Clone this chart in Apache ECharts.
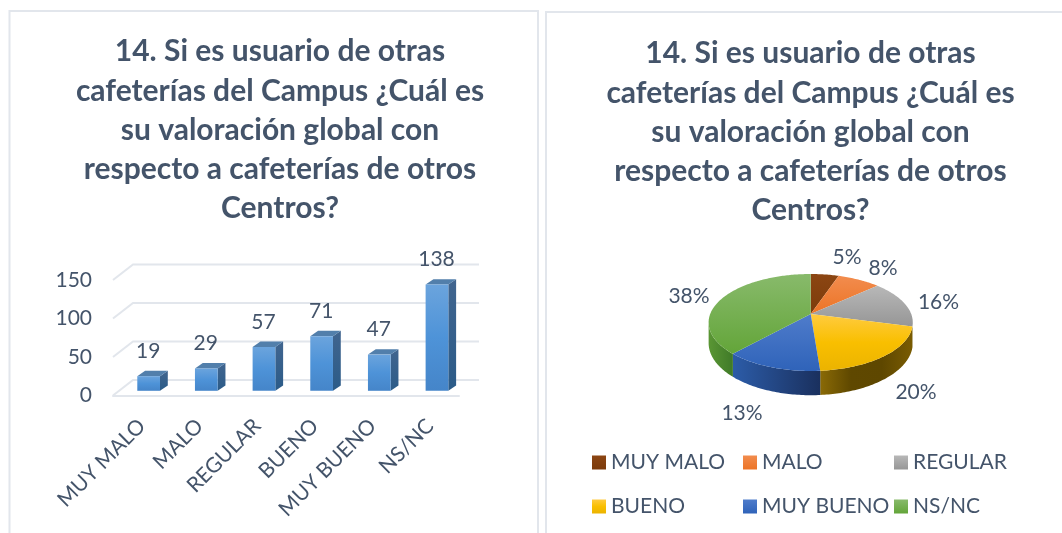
<!DOCTYPE html>
<html>
<head>
<meta charset="utf-8">
<style>html,body{margin:0;padding:0;background:#fff}#c{width:1062px;height:533px}</style>
<script src="https://cdn.jsdelivr.net/npm/echarts@6/dist/echarts.min.js"></script>
</head>
<body>
<div id="c"></div>
<script>
const titleText = '14. Si es usuario de otras\ncafeterías del Campus ¿Cuál es\nsu valoración global con\nrespecto a cafeterías de otros\nCentros?';
const categories = ['MUY MALO', 'MALO', 'REGULAR', 'BUENO', 'MUY BUENO', 'NS/NC'];
const values = [19, 29, 57, 71, 47, 138];
const yTicks = [0, 50, 100, 150];

const FONT = 'Lato';
const INK = '#44546A';
const GRID = '#E2E6EC';
const TEXT_SIZE = 21;

const grad = (dir, stops) => ({
  type: 'linear', x: 0, y: 0, x2: dir === 'h' ? 1 : 0, y2: dir === 'h' ? 0 : 1,
  colorStops: stops.map((c, i) => ({ offset: i / (stops.length - 1), color: c }))
});

const sliceTop = [
  ['#8C4613', '#7C3B0B'], ['#F28C4E', '#EC7426'], ['#B8B8B8', '#969696'],
  ['#FFCB40', '#F9BF00', '#EBB300'], ['#4F7CCB', '#2F63B9'], ['#88BA6B', '#63A539']
];
const sliceSide = [
  ['#5A2B08', '#4A2306'], ['#A85218', '#8F4512'], ['#6C6C6C', '#5C5C5C'],
  ['#8A6A06', '#5F4800', '#5E4700', '#7A5C02'], ['#2C5CA8', '#1A305E'], ['#5A9634', '#3F7A28']
];

/* perspective ellipse of the 3-D pie */
const PIE = { cx: 810.7, cy: 314, rx: 100.5, ry: 47, k: 0.175, depth: 20 };
const labelAt = [[847, 257], [883, 268], [938.5, 302], [916, 392], [742, 413], [689, 296]];
const total = values.reduce((a, b) => a + b, 0);

function rim(deg, drop) {
  const t = deg * Math.PI / 180, u = Math.sin(t), v = -Math.cos(t), w = 1 / (1 - PIE.k * v);
  return [PIE.cx + PIE.rx * u * w, PIE.cy + PIE.ry * v * w + (drop ? PIE.depth * w : 0)];
}
function arc(a, b, drop) {
  const pts = [], n = Math.max(2, Math.ceil(Math.abs(b - a)));
  for (let i = 0; i <= n; i++) pts.push(rim(a + (b - a) * i / n, drop));
  return pts;
}

function pieSlice(index) {
  return function (params, api) {
    const start = values.slice(0, index).reduce((a, b) => a + b, 0) / total * 360;
    const end = start + api.value(0) / total * 360;
    const kids = [];
    const a = Math.max(start, 104), b = Math.min(end, 260);
    if (b > a) {
      const top = arc(a, b, false), bottom = arc(b, a, true);
      kids.push({ type: 'polygon', z2: 1, shape: { points: top.concat(bottom) },
        style: { fill: grad('h', sliceSide[index]) } });
    }
    kids.push({ type: 'polygon', z2: 2,
      shape: { points: [[PIE.cx, PIE.cy]].concat(arc(start, end, false)) },
      style: { fill: grad('v', sliceTop[index]) } });
    kids.push({ type: 'text', z2: 5, style: {
      text: Math.round(api.value(0) / total * 100) + '%',
      x: labelAt[index][0], y: labelAt[index][1], align: 'center', verticalAlign: 'middle',
      fill: INK, fontSize: TEXT_SIZE, fontFamily: FONT } });
    return { type: 'group', children: kids };
  };
}

const BAR = { dx: 6.8, dy: -4.7, w: 22.7, sx: 7.8, sy: -5.4 };
function renderBar(params, api) {
  const p = api.coord([api.value(0), api.value(1)]);
  const base = api.coord([api.value(0), 0]);
  const l = p[0] + BAR.dx - BAR.w / 2, r = l + BAR.w;
  const t = p[1] + BAR.dy, b = base[1] + BAR.dy;
  return { type: 'group', children: [
    { type: 'polygon', shape: { points: [[r, t], [r + BAR.sx, t + BAR.sy], [r + BAR.sx, b + BAR.sy], [r, b]] },
      style: { fill: grad('v', ['#41658F', '#2B5B88']) } },
    { type: 'polygon', shape: { points: [[l, t], [l + BAR.sx, t + BAR.sy], [r + BAR.sx, t + BAR.sy], [r, t]] },
      style: { fill: '#527FAB' } },
    { type: 'rect', shape: { x: l, y: t, width: BAR.w, height: b - t },
      style: { fill: grad('v', ['#6BA4DD', '#4E93D8', '#4585C9']) } },
    { type: 'text', style: { text: String(api.value(1)), x: p[0] + BAR.dx - 0.5, y: t - 25,
      align: 'center', verticalAlign: 'middle', fill: INK, fontSize: TEXT_SIZE, fontFamily: FONT } }
  ] };
}

const WALL = { dx: 20, dy: -15.5 };
function renderWall(params, api) {
  const p = api.coord([0, api.value(0)]);
  const q = api.coord([categories.length - 1, api.value(0)]);
  const band = api.size([1, 0])[0];
  const l = p[0] - band / 2, r = q[0] + band / 2, y = p[1];
  return { type: 'polyline', shape: { points: [[l, y], [l + WALL.dx, y + WALL.dy], [r + WALL.dx, y + WALL.dy]] },
    style: { stroke: GRID, lineWidth: 2, fill: null } };
}

const legendPos = [[592, 452], [743, 452], [894, 452], [592, 496], [743, 496], [894, 496]];

const option = {
  animation: false,
  backgroundColor: '#fff',
  graphic: [
    { type: 'rect', silent: true, shape: { x: 9.5, y: 11, width: 528.5, height: 540 },
      style: { fill: null, stroke: GRID, lineWidth: 2 } },
    { type: 'rect', silent: true, shape: { x: 546, y: 12, width: 530, height: 540 },
      style: { fill: null, stroke: GRID, lineWidth: 2 } }
  ],
  title: [280, 810.5].map((x, i) => ({
    text: titleText, left: x, top: i ? 34 : 32, padding: 0, textAlign: 'center',
    textStyle: { color: INK, fontFamily: FONT, fontWeight: 'bold', fontSize: 30, lineHeight: 39.25 }
  })),
  grid: { left: 113, width: 346, top: 280, height: 115.5 },
  xAxis: { type: 'category', data: categories,
    axisLine: { show: true, lineStyle: { color: GRID, width: 2 } }, axisTick: { show: false },
    axisLabel: { rotate: 45, interval: 0, color: INK, fontSize: TEXT_SIZE, fontFamily: FONT, margin: 27 } },
  yAxis: { type: 'value', min: 0, max: 150, interval: 50,
    axisLine: { show: false }, axisTick: { show: false }, splitLine: { show: false },
    axisLabel: { color: INK, fontSize: TEXT_SIZE, fontFamily: FONT, margin: 21, padding: [6, 0, 0, 0] } },
  legend: categories.map((c, i) => ({
    data: [c], left: legendPos[i][0], top: legendPos[i][1], itemWidth: 14, itemHeight: 14,
    padding: 0, selectedMode: false, icon: 'rect',
    textStyle: { color: INK, fontSize: TEXT_SIZE, fontFamily: FONT }
  })),
  series: [
    { type: 'custom', name: 'walls', coordinateSystem: 'cartesian2d', z: 1, silent: true,
      renderItem: renderWall, encode: { y: 0 }, data: yTicks.map(v => [v]) },
    { type: 'custom', name: 'valores', coordinateSystem: 'cartesian2d', z: 3, silent: true,
      renderItem: renderBar, encode: { x: 0, y: 1 }, data: values.map((v, i) => [i, v]) }
  ].concat(categories.map((c, i) => ({
    type: 'custom', name: c, coordinateSystem: 'none', z: 3, silent: true,
    itemStyle: { color: grad('v', sliceTop[i]) },
    renderItem: pieSlice(i), data: [[values[i]]]
  })))
};
echarts.init(document.getElementById('c'), null, { renderer: 'canvas' }).setOption(option);
</script>
</body>
</html>
